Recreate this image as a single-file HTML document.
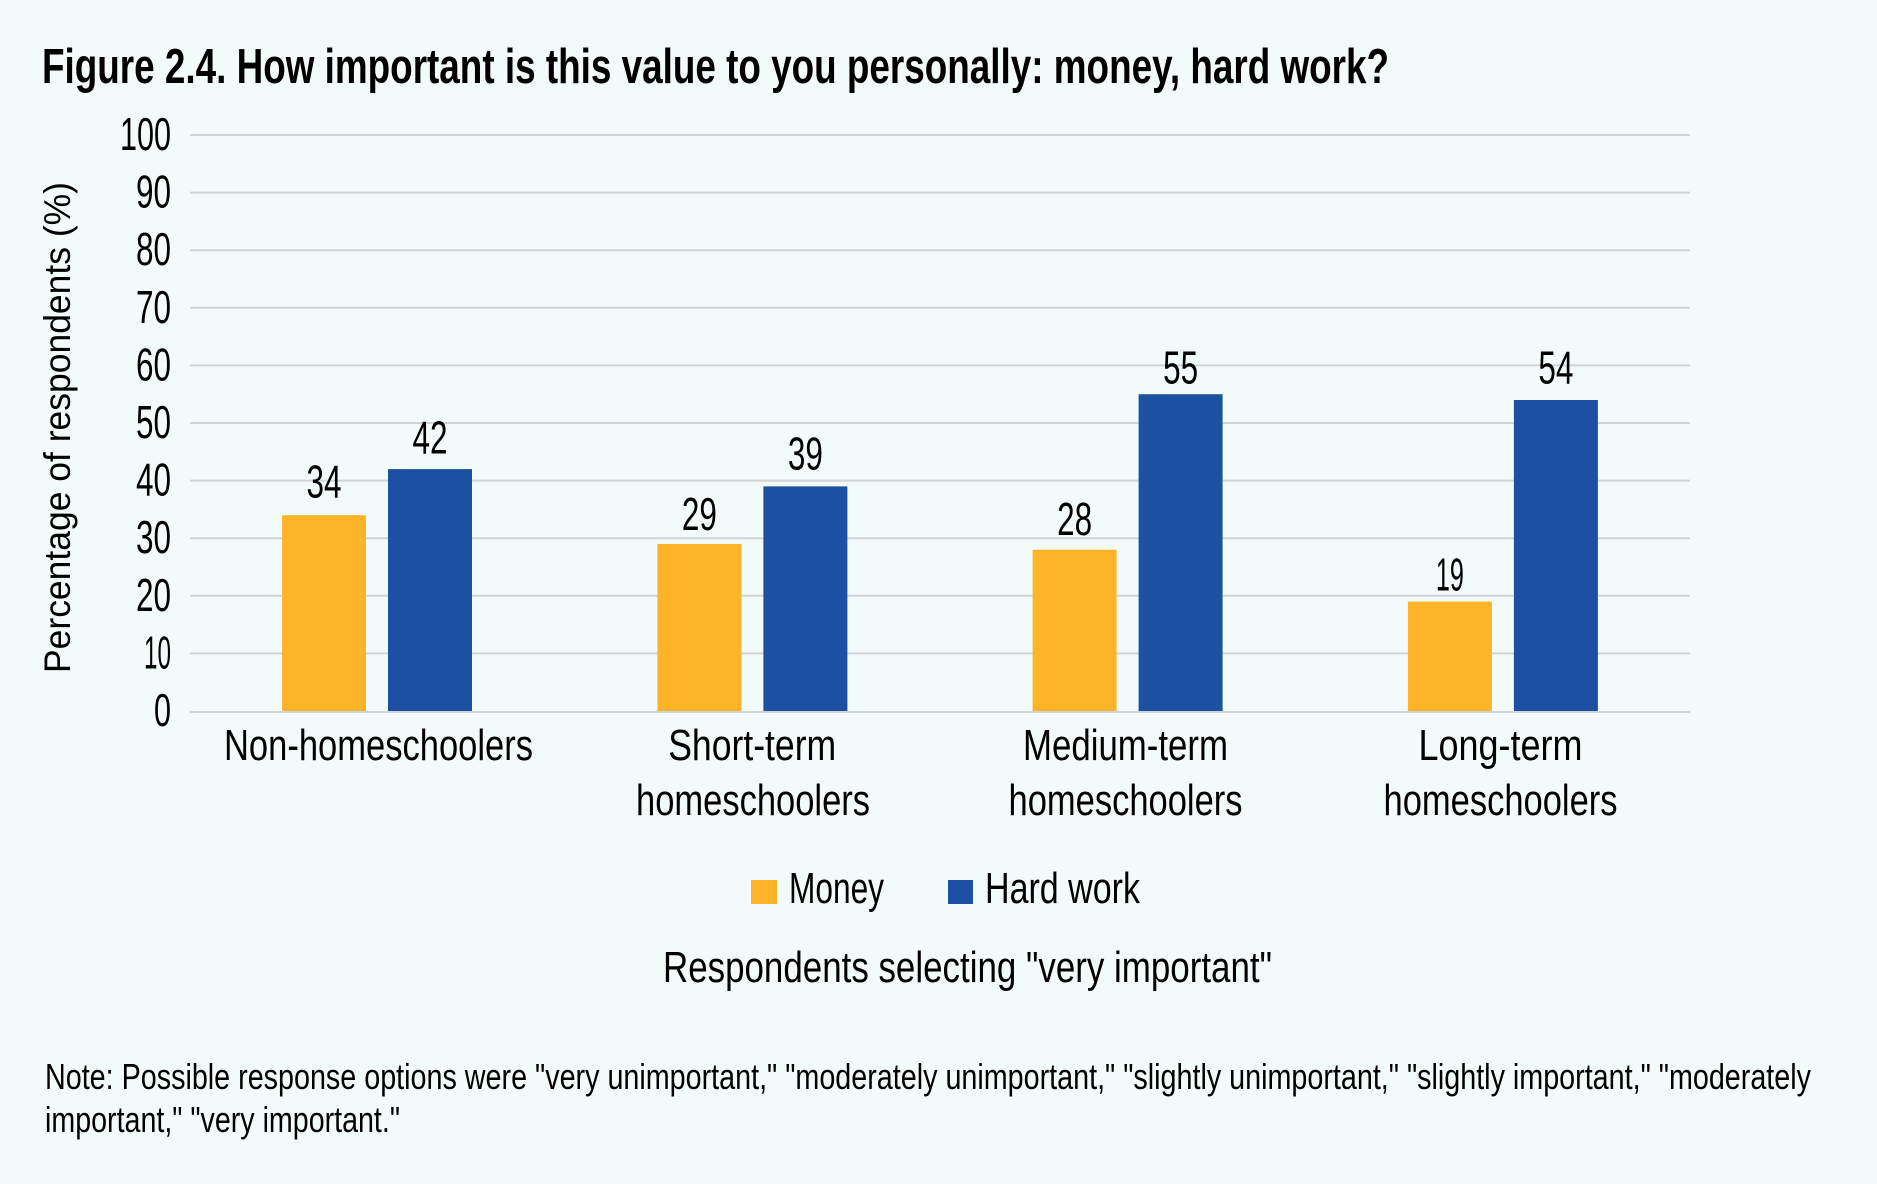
<!DOCTYPE html>
<html>
<head>
<meta charset="utf-8">
<style>
  html, body { margin: 0; padding: 0; background: #f3fbfa; }
  svg { display: block; }
  text { font-family: "Liberation Sans Narrow", "Liberation Sans", sans-serif; fill: #000; }
</style>
</head>
<body>
<svg width="1877" height="1184" viewBox="0 0 1877 1184" xmlns="http://www.w3.org/2000/svg">
  <rect x="0" y="0" width="1877" height="1184" fill="#f3fbfa"/>

  <!-- Title -->
  <text x="42" y="83" font-size="49" font-weight="bold" textLength="1347" lengthAdjust="spacingAndGlyphs">Figure 2.4. How important is this value to you personally: money, hard work?</text>

  <!-- Gridlines -->
  <g stroke="#d0d4d6" stroke-width="2">
    <line x1="190" x2="1690" y1="135" y2="135"/>
    <line x1="190" x2="1690" y1="192.6" y2="192.6"/>
    <line x1="190" x2="1690" y1="250.2" y2="250.2"/>
    <line x1="190" x2="1690" y1="307.8" y2="307.8"/>
    <line x1="190" x2="1690" y1="365.4" y2="365.4"/>
    <line x1="190" x2="1690" y1="423" y2="423"/>
    <line x1="190" x2="1690" y1="480.6" y2="480.6"/>
    <line x1="190" x2="1690" y1="538.2" y2="538.2"/>
    <line x1="190" x2="1690" y1="595.8" y2="595.8"/>
    <line x1="190" x2="1690" y1="653.4" y2="653.4"/>
  </g>

  <!-- Y tick labels -->
  <g font-size="46" text-anchor="end">
    <text x="171" y="150" textLength="51" lengthAdjust="spacingAndGlyphs">100</text>
    <text x="171" y="207.6" textLength="35" lengthAdjust="spacingAndGlyphs">90</text>
    <text x="171" y="265.2" textLength="35" lengthAdjust="spacingAndGlyphs">80</text>
    <text x="171" y="322.8" textLength="35" lengthAdjust="spacingAndGlyphs">70</text>
    <text x="171" y="380.4" textLength="35" lengthAdjust="spacingAndGlyphs">60</text>
    <text x="171" y="438" textLength="35" lengthAdjust="spacingAndGlyphs">50</text>
    <text x="171" y="495.6" textLength="35" lengthAdjust="spacingAndGlyphs">40</text>
    <text x="171" y="553.2" textLength="35" lengthAdjust="spacingAndGlyphs">30</text>
    <text x="171" y="610.8" textLength="35" lengthAdjust="spacingAndGlyphs">20</text>
    <text x="171" y="668.4" textLength="27" lengthAdjust="spacingAndGlyphs">10</text>
    <text x="171" y="726" textLength="17" lengthAdjust="spacingAndGlyphs">0</text>
  </g>

  <!-- Y axis title -->
  <text transform="translate(70,427.5) rotate(-90)" x="0" y="0" font-size="37" text-anchor="middle" textLength="491" lengthAdjust="spacingAndGlyphs" style="font-family: 'Liberation Sans', sans-serif;">Percentage of respondents (%)</text>

  <!-- Bars: Money -->
  <g fill="#fdb429">
    <rect x="282" y="515.2" width="84" height="195.8"/>
    <rect x="657.4" y="543.9" width="84" height="167.1"/>
    <rect x="1032.6" y="549.7" width="84" height="161.3"/>
    <rect x="1407.9" y="601.6" width="84" height="109.4"/>
  </g>
  <!-- Bars: Hard work -->
  <g fill="#1c51a2">
    <rect x="388" y="469.1" width="84" height="241.9"/>
    <rect x="763.4" y="486.4" width="84" height="224.6"/>
    <rect x="1138.6" y="394.2" width="84" height="316.8"/>
    <rect x="1513.9" y="400" width="84" height="311"/>
  </g>

  <!-- Baseline -->
  <line x1="190" x2="1690" y1="712" y2="712" stroke="#d0d4d6" stroke-width="2"/>

  <!-- Value labels -->
  <g font-size="46" text-anchor="middle">
    <text x="324" y="497.7" textLength="35" lengthAdjust="spacingAndGlyphs">34</text>
    <text x="430" y="453.3" textLength="35" lengthAdjust="spacingAndGlyphs">42</text>
    <text x="699.4" y="530" textLength="35" lengthAdjust="spacingAndGlyphs">29</text>
    <text x="805.4" y="469.3" textLength="35" lengthAdjust="spacingAndGlyphs">39</text>
    <text x="1074.6" y="535" textLength="35" lengthAdjust="spacingAndGlyphs">28</text>
    <text x="1180.6" y="383.3" textLength="35" lengthAdjust="spacingAndGlyphs">55</text>
    <text x="1449.9" y="590.7" textLength="28" lengthAdjust="spacingAndGlyphs">19</text>
    <text x="1555.9" y="383.3" textLength="35" lengthAdjust="spacingAndGlyphs">54</text>
  </g>

  <!-- Category labels -->
  <g font-size="44" text-anchor="middle">
    <text x="378.5" y="760" textLength="309" lengthAdjust="spacingAndGlyphs">Non-homeschoolers</text>
    <text x="752.2" y="760" textLength="168" lengthAdjust="spacingAndGlyphs">Short-term</text>
    <text x="753" y="815" textLength="234" lengthAdjust="spacingAndGlyphs">homeschoolers</text>
    <text x="1125.5" y="760" textLength="205" lengthAdjust="spacingAndGlyphs">Medium-term</text>
    <text x="1125.5" y="815" textLength="234" lengthAdjust="spacingAndGlyphs">homeschoolers</text>
    <text x="1500.5" y="760" textLength="164" lengthAdjust="spacingAndGlyphs">Long-term</text>
    <text x="1500.5" y="815" textLength="234" lengthAdjust="spacingAndGlyphs">homeschoolers</text>
  </g>

  <!-- Legend -->
  <rect x="751" y="880" width="26" height="24" fill="#fdb429"/>
  <text x="789" y="903" font-size="44" textLength="95" lengthAdjust="spacingAndGlyphs">Money</text>
  <rect x="948" y="880" width="25" height="24" fill="#1c51a2"/>
  <text x="985" y="903" font-size="44" textLength="155" lengthAdjust="spacingAndGlyphs">Hard work</text>

  <!-- Axis subtitle -->
  <text x="663" y="982" font-size="44" textLength="609" lengthAdjust="spacingAndGlyphs">Respondents selecting "very important"</text>

  <!-- Note -->
  <text x="45" y="1089" font-size="36" textLength="1766" lengthAdjust="spacingAndGlyphs">Note: Possible response options were "very unimportant," "moderately unimportant," "slightly unimportant," "slightly important," "moderately</text>
  <text x="45" y="1132" font-size="36" textLength="355" lengthAdjust="spacingAndGlyphs">important," "very important."</text>
</svg>
</body>
</html>
